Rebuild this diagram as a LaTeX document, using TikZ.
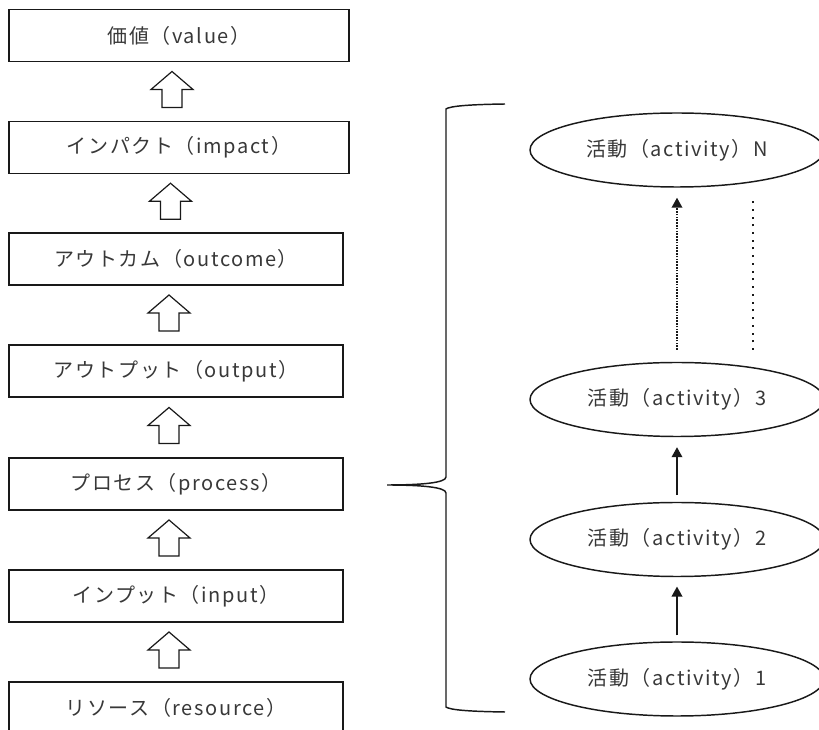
\documentclass[tikz,border=0pt]{standalone}
\usepackage{fontspec}
\setmainfont{Noto Sans CJK JP}[LetterSpace=8]
\usetikzlibrary{shapes.geometric, calc}
\usetikzlibrary{arrows.meta}

\begin{document}
\begin{tikzpicture}[x=0.75pt, y=-0.75pt, font=\fontsize{15pt}{18pt}\selectfont]
					\useasboundingbox (0,0) rectangle (819,730);
					\tikzstyle{stage}=[draw=black!90, line width=1.4pt, text=black!78, inner sep=0, minimum width=250.5pt, minimum height=39pt]
					\tikzstyle{hollow}=[draw=black!90, line width=0.9pt, fill=white, line join=miter]
					\tikzstyle{activity}=[ellipse, draw=black!90, line width=1.1pt, text=black!78, inner sep=0, minimum width=220.5pt, minimum height=55.5pt]
					\tikzstyle{step arrow}=[-{Triangle[length=7.5pt,width=8pt]}, line width=1.1pt, black!90]
					% left column
					\node (value) [stage, minimum width=255pt] at (179,35.5) {価値（value）};
					\node (impact) [stage, minimum width=255pt] at (179,147.5) {インパクト（impact）};
					\node (outcome) [stage] at (176,259) {アウトカム（outcome）};
					\node (output) [stage] at (176,371) {アウトプット（output）};
					\node (process) [stage] at (176,484) {プロセス（process）};
					\node (input) [stage] at (176,596) {インプット（input）};
					\node (resource) [stage] at (176,708) {リソース（resource）};
					\foreach \lo/\hi [count=\k] in {impact/value, outcome/impact, output/outcome, process/output, input/process, resource/input} {
						\coordinate (mid\k) at ($(\lo.north)!0.5!(\hi.south)$);
						\draw[hollow] (mid\k) ++(-17,16) -- ++(0,-18) -- ++(-11,0) -- ++(21,-18) -- ++(21,18) -- ++(-11,0) -- ++(0,18) -- cycle;
					}
					% brace
					\coordinate (bracetip) at (387,485);
					\draw[line width=1.1pt, black!90] (505,104) .. controls (470,104.5) and (450,106) .. (446,109) -- (446,477) .. controls (446,483) and (420,485) .. (bracetip) .. controls (420,485) and (446,487) .. (446,493) -- (446,707) .. controls (450,710) and (470,711.5) .. (505,712);
					% activities
					\node (actN) [activity] at (677,150) {活動（activity）N};
					\node (act3) [activity] at (677,399.5) {活動（activity）3};
					\node (act2) [activity] at (677,539.5) {活動（activity）2};
					\node (act1) [activity] at (677,679) {活動（activity）1};
					\draw[step arrow, shorten <=4.5pt, shorten >=7pt] (act1) -- (act2);
					\draw[step arrow, shorten <=5pt, shorten >=7.5pt] (act2) -- (act3);
					\draw[step arrow, densely dotted, shorten <=9pt, shorten >=7.5pt] (act3) -- (actN);
					\coordinate (dotbot) at (753,350);
					\coordinate (dottop) at (753,198);
					\draw[line width=1.5pt, black!90, dash pattern=on 1.5pt off 4.3pt] (dotbot) -- (dottop);
				\end{tikzpicture}
\end{document}
